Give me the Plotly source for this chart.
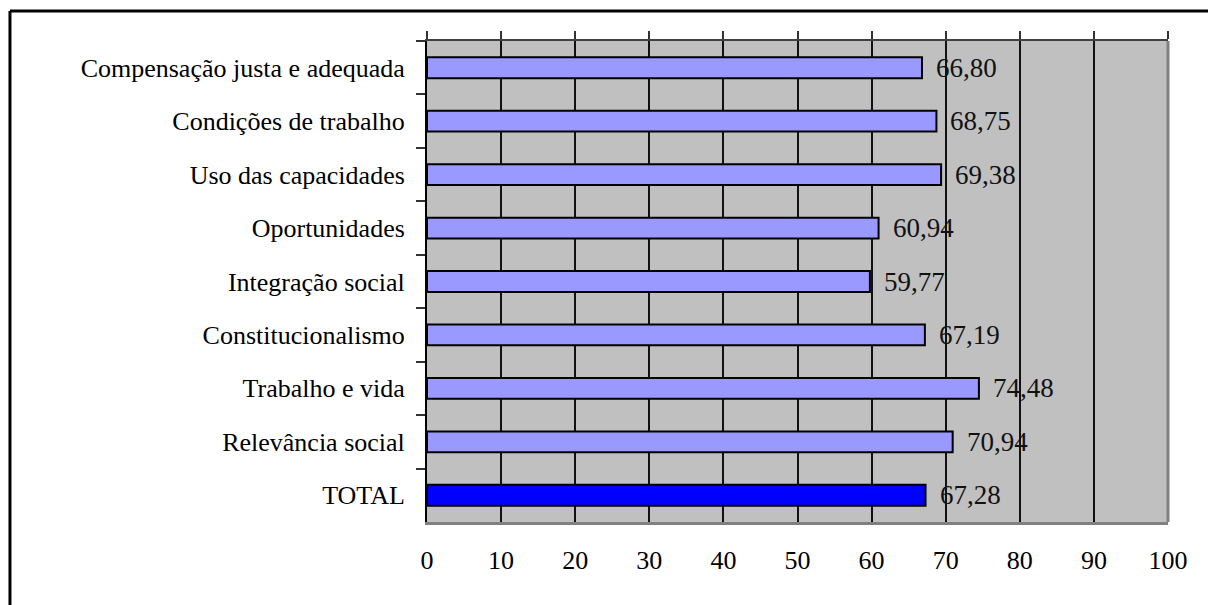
import plotly.graph_objects as go

# Quality-of-work-life dimensions, top to bottom
categories = [
    "Compensação justa e adequada",
    "Condições de trabalho",
    "Uso das capacidades",
    "Oportunidades",
    "Integração social",
    "Constitucionalismo",
    "Trabalho e vida",
    "Relevância social",
    "TOTAL",
]
scores = [66.80, 68.75, 69.38, 60.94, 59.77, 67.19, 74.48, 70.94, 67.28]
x_ticks = [0, 10, 20, 30, 40, 50, 60, 70, 80, 90, 100]

bar_colors = ["#9999FF"] * (len(categories) - 1) + ["#0000FF"]
FONT = "Liberation Serif, Times New Roman, serif"

fig = go.Figure()
fig.add_trace(go.Bar(
    y=categories,
    x=scores,
    orientation="h",
    width=0.39,
    marker=dict(color=bar_colors, line=dict(color="black", width=2)),
    showlegend=False,
    hoverinfo="x+y",
))
# helper trace so the top tick axis is drawn
fig.add_trace(go.Scatter(
    x=[0, 100], y=[categories[0], categories[0]], xaxis="x2",
    mode="lines", line=dict(width=0), opacity=0,
    hoverinfo="skip", showlegend=False,
))

# value labels to the right of each bar, with comma decimal separator
for cat, v in zip(categories, scores):
    fig.add_annotation(
        x=v, y=cat, xref="x", yref="y",
        text=f"{v:.2f}".replace(".", ","),
        showarrow=False, xanchor="left", xshift=12,
        font=dict(family=FONT, size=27, color="#111111"),
    )

fig.update_layout(
    width=1208, height=605,
    margin=dict(l=427, r=40, t=41, b=83),
    paper_bgcolor="white",
    plot_bgcolor="#C0C0C0",
    bargap=0.6,
    font=dict(family=FONT, size=26, color="black"),
    xaxis=dict(
        range=[0, 100], tickvals=x_ticks,
        showgrid=True, gridcolor="#111111", gridwidth=1.5,
        zeroline=False, showline=True, linecolor="#808080", linewidth=3,
        ticks="", ticklabelstandoff=13,
        tickfont=dict(family=FONT, size=26, color="black"),
        fixedrange=True,
    ),
    xaxis2=dict(
        range=[0, 100], tickvals=x_ticks, overlaying="x", side="top",
        showticklabels=False, showgrid=False, zeroline=False,
        showline=True, linecolor="#404040", linewidth=2,
        ticks="outside", ticklen=8, tickwidth=1.5, tickcolor="#333333",
        fixedrange=True,
    ),
    yaxis=dict(
        autorange="reversed",
        showgrid=False, zeroline=False,
        showline=True, linecolor="black", linewidth=2,
        ticks="outside", tickson="boundaries", ticklen=9, tickwidth=1.5,
        tickcolor="#333333", ticklabelstandoff=15,
        tickfont=dict(family=FONT, size=26, color="black"),
        fixedrange=True,
    ),
    shapes=[
        # right edge of the plot area
        dict(type="line", xref="paper", yref="paper", x0=1, x1=1, y0=0, y1=1,
             line=dict(color="#808080", width=3), layer="above"),
        # outer chart frame (left and top edges)
        dict(type="line", xref="paper", yref="paper", x0=-0.5628, x1=-0.5628,
             y0=-0.3, y1=1.0624, line=dict(color="black", width=3)),
        dict(type="line", xref="paper", yref="paper", x0=-0.5628, x1=1.1,
             y0=1.0624, y1=1.0624, line=dict(color="black", width=3)),
    ],
)

fig.write_html("out.html")
